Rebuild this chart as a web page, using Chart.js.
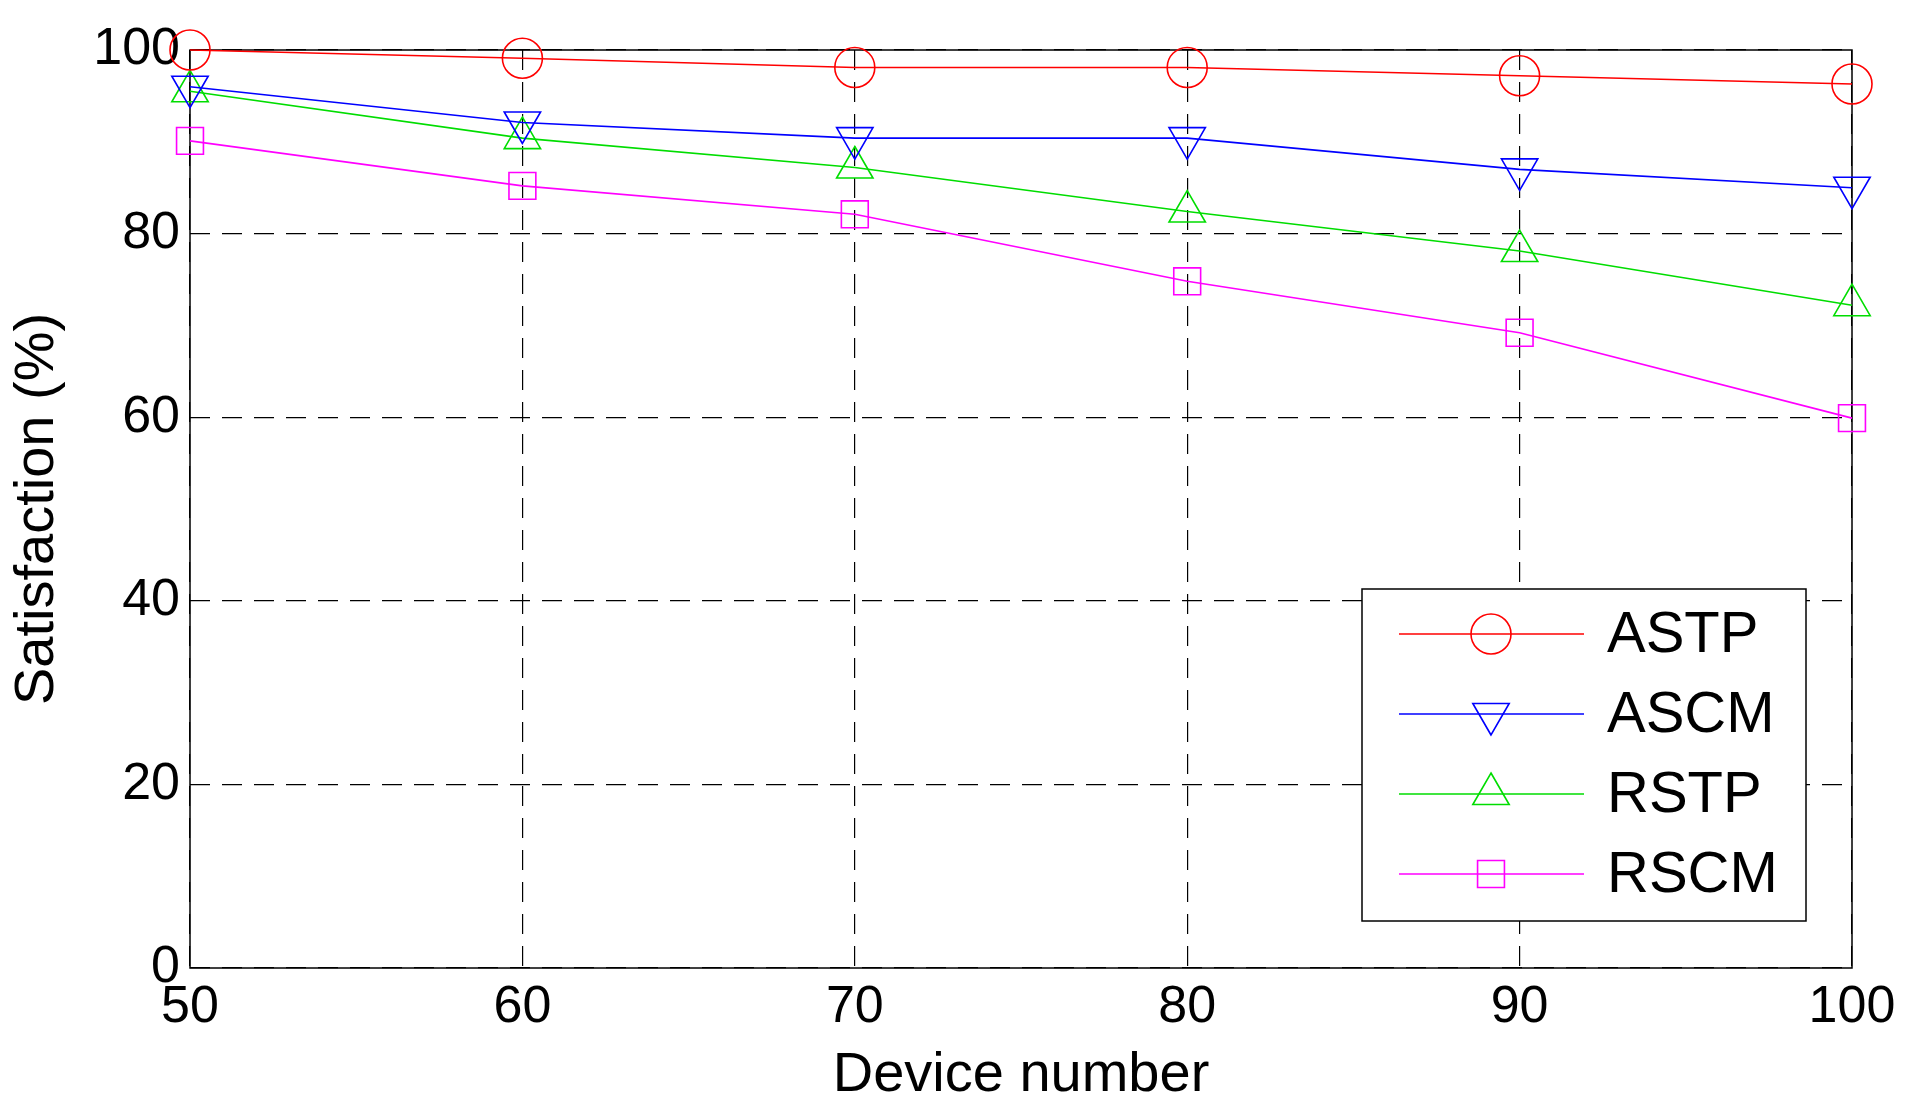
<!DOCTYPE html>
<html><head><meta charset="utf-8">
<script src="https://cdn.jsdelivr.net/npm/chart.js@4"></script>
<style>html,body{margin:0;background:#fff}</style></head>
<body><canvas id="c" width="1911" height="1113"></canvas>
<script>
const devices=[50,60,70,80,90,100];
const astp=[100,99.1,98.1,98.1,97.2,96.3];
const ascm=[96,92.1,90.4,90.4,87,85];
const rstp=[95.5,90.4,87.2,82.4,78.1,72.2];
const rscm=[90.1,85.2,82.1,74.8,69.2,59.9];
const yTicks=[0,20,40,60,80,100];
const F='"Liberation Sans", Arial, sans-serif';
function ds(label,data,color,style,rot,r){return{label,data:devices.map((x,i)=>({x,y:data[i]})),borderColor:color,backgroundColor:'rgba(0,0,0,0)',borderWidth:1.6,pointStyle:style,pointRotation:rot,pointRadius:r,pointHoverRadius:r,pointBorderWidth:1.6,pointBorderColor:color,pointBackgroundColor:'rgba(0,0,0,0)',tension:0,clip:false};}
const frame={id:'frame',beforeDatasetsDraw(c){const a=c.chartArea,x=c.ctx;x.save();x.strokeStyle='#000';x.lineWidth=1.5;x.strokeRect(a.left,a.top,a.right-a.left,a.bottom-a.top);x.restore();},
afterDatasetsDraw(c){const x=c.ctx;x.save();
const L=1362,T=589,W=444,H=332;x.fillStyle='#fff';x.fillRect(L,T,W,H);x.strokeStyle='#000';x.lineWidth=1.5;x.strokeRect(L,T,W,H);
c.data.datasets.forEach((d,i)=>{const y=T+45+i*80;x.strokeStyle=d.borderColor;x.lineWidth=1.6;x.beginPath();x.moveTo(L+37,y);x.lineTo(L+222,y);x.stroke();
x.fillStyle='rgba(0,0,0,0)';
Chart.helpers.drawPoint(x,{pointStyle:d.pointStyle,rotation:d.pointRotation,radius:d.pointRadius,borderWidth:1.6},L+129,y);
x.fillStyle='#000';x.font='58px '+F;x.textBaseline='middle';x.fillText(d.label,L+245,y+2);});
x.restore();}};
new Chart(document.getElementById('c'),{type:'line',
data:{datasets:[ds('ASTP',astp,'#ff0000','circle',0,20),ds('ASCM',ascm,'#0000ff','triangle',180,21),ds('RSTP',rstp,'#00dd00','triangle',0,21),ds('RSCM',rscm,'#ff00ff','rect',0,19)]},
options:{responsive:false,animation:false,devicePixelRatio:1,layout:{padding:{left:0,top:50,right:59,bottom:0}},
plugins:{legend:{display:false},tooltip:{enabled:false}},
scales:{x:{type:'linear',min:50,max:100,ticks:{stepSize:10,color:'#000',font:{size:52,family:F},padding:8},
grid:{color:'#000',lineWidth:1.2,drawTicks:false},border:{display:false,dash:[20,12]},
title:{display:true,text:'Device number',color:'#000',font:{size:56,family:F},padding:{top:0}},
afterFit:s=>{s.height=145;}},
y:{min:0,max:100,afterBuildTicks:s=>{s.ticks=yTicks.map(v=>({value:v}));},ticks:{color:'#000',font:{size:52,family:F},padding:10},
grid:{color:'#000',lineWidth:1.2,drawTicks:false},border:{display:false,dash:[20,12]},
title:{display:true,text:'Satisfaction (%)',color:'#000',font:{size:56,family:F},padding:{bottom:2}},
afterFit:s=>{s.width=190;}}}},
plugins:[frame]});
</script></body></html>
